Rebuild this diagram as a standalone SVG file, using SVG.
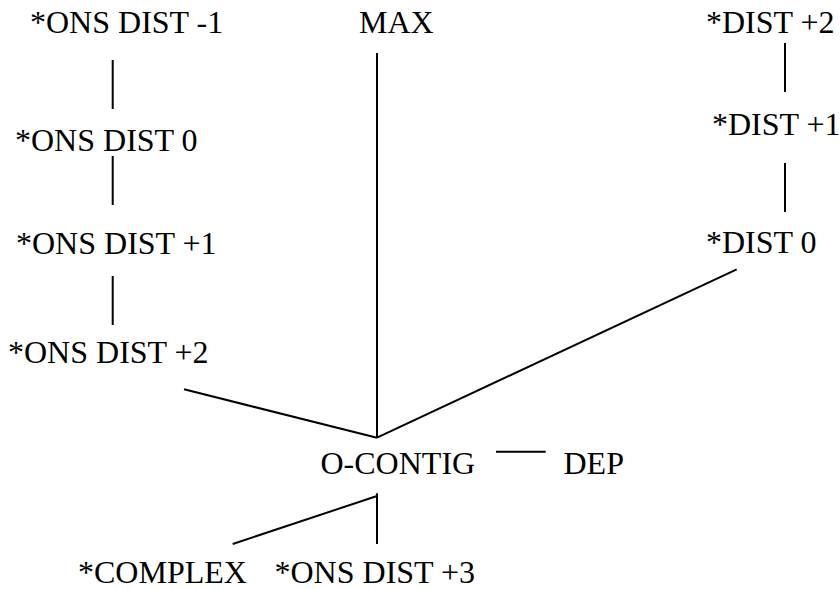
<svg xmlns="http://www.w3.org/2000/svg" width="840" height="589" viewBox="0 0 840 589">
  <style>
    .lbl { font-family: 'Liberation Serif', 'Times New Roman', serif; font-size: 32px; fill: #000; }
    .edge { stroke: #000; stroke-width: 2; fill: none; }
  </style>
  <rect width="840" height="589" fill="#fff"/>

  <!-- tree edges -->
  <g id="connectors">
    <line class="edge" x1="112.7" y1="60" x2="112.7" y2="109"/>
    <line class="edge" x1="112.7" y1="156" x2="112.7" y2="205"/>
    <line class="edge" x1="112.7" y1="276" x2="112.7" y2="325"/>
    <line class="edge" x1="785" y1="43" x2="785" y2="92"/>
    <line class="edge" x1="785" y1="163" x2="785" y2="212"/>
    <line class="edge" x1="377" y1="53" x2="377" y2="437.7"/>
    <line class="edge" x1="184" y1="389.3" x2="377" y2="437.7"/>
    <line class="edge" x1="377" y1="437.7" x2="736.7" y2="269.3"/>
    <line class="edge" x1="496" y1="451.7" x2="545.7" y2="451.7"/>
    <line class="edge" x1="377" y1="493.3" x2="377" y2="544"/>
    <line class="edge" x1="377" y1="496" x2="232.7" y2="544"/>
  </g>

  <!-- constraint labels -->
  <g id="ons-dist-m1"><text class="lbl" x="30" y="33">*ONS DIST -1</text></g>
  <g id="ons-dist-0"><text class="lbl" x="15" y="151">*ONS DIST 0</text></g>
  <g id="ons-dist-p1"><text class="lbl" x="16" y="254">*ONS DIST +1</text></g>
  <g id="ons-dist-p2"><text class="lbl" x="8" y="363">*ONS DIST +2</text></g>
  <g id="max"><text class="lbl" x="359" y="33">MAX</text></g>
  <g id="dist-p2"><text class="lbl" x="706" y="32.5">*DIST +2</text></g>
  <g id="dist-p1"><text class="lbl" x="712" y="135">*DIST +1</text></g>
  <g id="dist-0"><text class="lbl" x="706" y="252.7">*DIST 0</text></g>
  <g id="o-contig"><text class="lbl" x="320.5" y="474.3">O-CONTIG</text></g>
  <g id="dep"><text class="lbl" x="563.5" y="474.3">DEP</text></g>
  <g id="complex"><text class="lbl" x="78" y="583">*COMPLEX</text></g>
  <g id="ons-dist-p3"><text class="lbl" x="274.5" y="583">*ONS DIST +3</text></g>
</svg>
